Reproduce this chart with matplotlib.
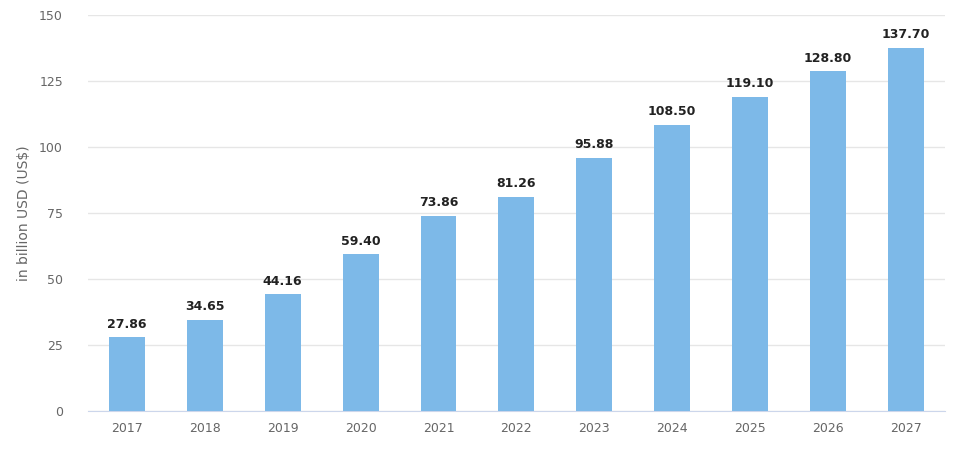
import matplotlib
matplotlib.use("Agg")
import matplotlib.pyplot as plt

years = ["2017","2018","2019","2020","2021","2022","2023","2024","2025","2026","2027"]
values = [27.86,34.65,44.16,59.40,73.86,81.26,95.88,108.50,119.10,128.80,137.70]
yticks = [0,25,50,75,100,125,150]

fig = plt.figure(figsize=(9.62,4.55), dpi=100)
ax = fig.add_axes([0.0915,0.0967,0.8905,0.870])
x = list(range(len(years)))
bars = ax.bar(x, values, width=0.46, color="#7db9e8", zorder=3)
for xi, v in zip(x, values):
    ax.text(xi, v+2.5, f"{v:.2f}", ha="center", va="bottom", fontsize=9,
            fontweight="bold", color="#222222")
ax.set_xlim(-0.5, 10.5)
ax.set_ylim(0,150)
ax.set_yticks(yticks)
ax.set_xticks(x)
ax.set_xticklabels(years)
ax.grid(axis="y", color="#e6e6e6", linewidth=1, zorder=0)
for s in ["top","right","left"]:
    ax.spines[s].set_visible(False)
ax.spines["bottom"].set_color("#ccd6eb")
ax.tick_params(axis="y", length=0, labelsize=9, colors="#666666", pad=18)
ax.tick_params(axis="x", length=0, labelsize=9, colors="#666666", pad=8)
ax.set_ylabel("in billion USD (US$)", fontsize=10, color="#666666", labelpad=6)
fig.savefig("out.png", dpi=100)
